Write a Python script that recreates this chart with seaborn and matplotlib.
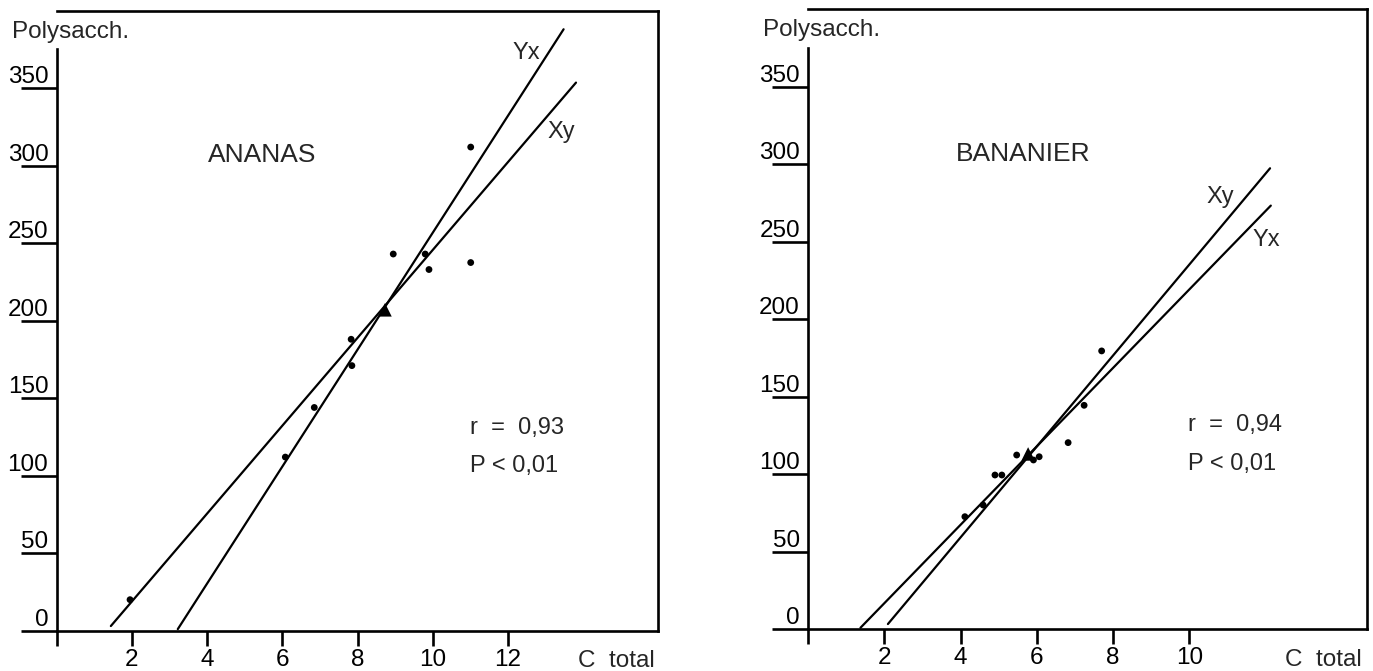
import matplotlib
matplotlib.use("Agg")
import matplotlib.pyplot as plt
import seaborn as sns
import pandas as pd

# ---- ANANAS ----
ananas_c = [1.95, 6.08, 6.85, 7.83, 7.85, 8.95, 9.80, 9.90, 11.01, 11.01]
ananas_poly = [20, 112, 144, 188, 171, 243, 243, 233, 312, 237.5]
ananas_mean_c = [8.73]
ananas_mean_poly = [207]
ananas_yx_c = [3.22, 13.48]
ananas_yx_poly = [1, 388]
ananas_xy_c = [1.44, 13.81]
ananas_xy_poly = [3, 353.6]

# ---- BANANIER ----
bananier_c = [4.11, 4.59, 4.90, 5.08, 5.47, 5.91, 6.06, 6.82, 7.24, 7.70]
bananier_poly = [72.5, 80, 99.4, 99.4, 112.3, 109.1, 111.2, 120.3, 144.4, 179.5]
bananier_mean_c = [5.77]
bananier_mean_poly = [113]
bananier_xy_c = [2.09, 12.12]
bananier_xy_poly = [3.2, 297.4]
bananier_yx_c = [1.37, 12.14]
bananier_yx_poly = [0.8, 273.3]

y_ticks = [0, 50, 100, 150, 200, 250, 300, 350]
ananas_x_ticks = [0, 2, 4, 6, 8, 10, 12]
bananier_x_ticks = [0, 2, 4, 6, 8, 10]

sns.set_style("white")
plt.rcParams["font.family"] = ["Liberation Sans", "DejaVu Sans"]
FS_TICK = 17.5
FS_AXIS = 17.5
FS_NAME = 19
FS_TXT = 17
LW = 1.9

fig = plt.figure(figsize=(13.73, 6.71), dpi=100)
ax_l = fig.add_axes([0.0413, 0.0601, 0.4382, 0.9240])
ax_r = fig.add_axes([0.5887, 0.0626, 0.4068, 0.9235])


def panel(ax, name, pc, pp, mc, mp, lines, labels, xticks, xmax, stats, stats_pos, name_pos, ctotal_x):
    df = pd.DataFrame({"c": pc, "p": pp})
    sns.scatterplot(data=df, x="c", y="p", ax=ax, color="black", s=24,
                    edgecolor="none", zorder=4)
    sns.scatterplot(x=mc, y=mp, ax=ax, marker="^", color="black", s=95,
                    edgecolor="none", zorder=5)
    for lx, ly in lines:
        sns.lineplot(x=lx, y=ly, ax=ax, color="black", lw=1.6,
                     estimator=None, sort=False, zorder=3)
    for txt, (tx, ty) in labels:
        ax.text(tx, ty, txt, fontsize=FS_TXT, ha="center", va="center")

    ax.set_xlim(0, xmax)
    ax.set_ylim(0, 400)
    ax.set_xlabel("")
    ax.set_ylabel("")

    for s in ax.spines.values():
        s.set_visible(True)
        s.set_color("black")
        s.set_linewidth(LW)
    ax.spines["left"].set_bounds(0, 375)

    ax.set_xticks(xticks)
    ax.set_xticklabels([""] + [str(t) for t in xticks[1:]], fontsize=FS_TICK)
    ax.set_yticks(y_ticks)
    ax.set_yticklabels([str(t) for t in y_ticks], fontsize=FS_TICK)
    ax.tick_params(axis="x", direction="out", length=11, width=LW, pad=2,
                   bottom=True, colors="black")
    ax.tick_params(axis="y", direction="out", length=26, width=LW, pad=-20,
                   left=True, colors="black")
    for lab in ax.get_yticklabels():
        lab.set_verticalalignment("bottom")

    ax.text(-1.18, 386.5, "Polysacch.", fontsize=FS_AXIS, ha="left", va="center",
            clip_on=False)
    ax.annotate("C  total", xy=(ctotal_x, 0), xycoords=("data", "axes fraction"),
                xytext=(0, -22), textcoords="offset points", fontsize=FS_AXIS,
                ha="left", va="center", annotation_clip=False)
    ax.text(name_pos[0], name_pos[1], name, fontsize=FS_NAME, ha="center", va="center")
    ax.text(stats_pos[0], stats_pos[1], stats[0], fontsize=FS_TXT, ha="left", va="center")
    ax.text(stats_pos[0], stats_pos[1] - 25, stats[1], fontsize=FS_TXT, ha="left", va="center")
    ax.grid(False)


panel(ax_l, "ANANAS", ananas_c, ananas_poly, ananas_mean_c, ananas_mean_poly,
      [(ananas_yx_c, ananas_yx_poly), (ananas_xy_c, ananas_xy_poly)],
      [("Yx", (12.49, 373)), ("Xy", (13.42, 322))],
      ananas_x_ticks, 16, ("r  =  0,93", "P < 0,01"), (11.0, 131), (5.45, 307), 13.86)

panel(ax_r, "BANANIER", bananier_c, bananier_poly, bananier_mean_c, bananier_mean_poly,
      [(bananier_xy_c, bananier_xy_poly), (bananier_yx_c, bananier_yx_poly)],
      [("Xy", (10.81, 279)), ("Yx", (12.03, 251))],
      bananier_x_ticks, 14.66, ("r  =  0,94", "P < 0,01"), (9.96, 131.5), (5.64, 306.6), 12.5)

fig.savefig("out.png", dpi=100, facecolor="white")
